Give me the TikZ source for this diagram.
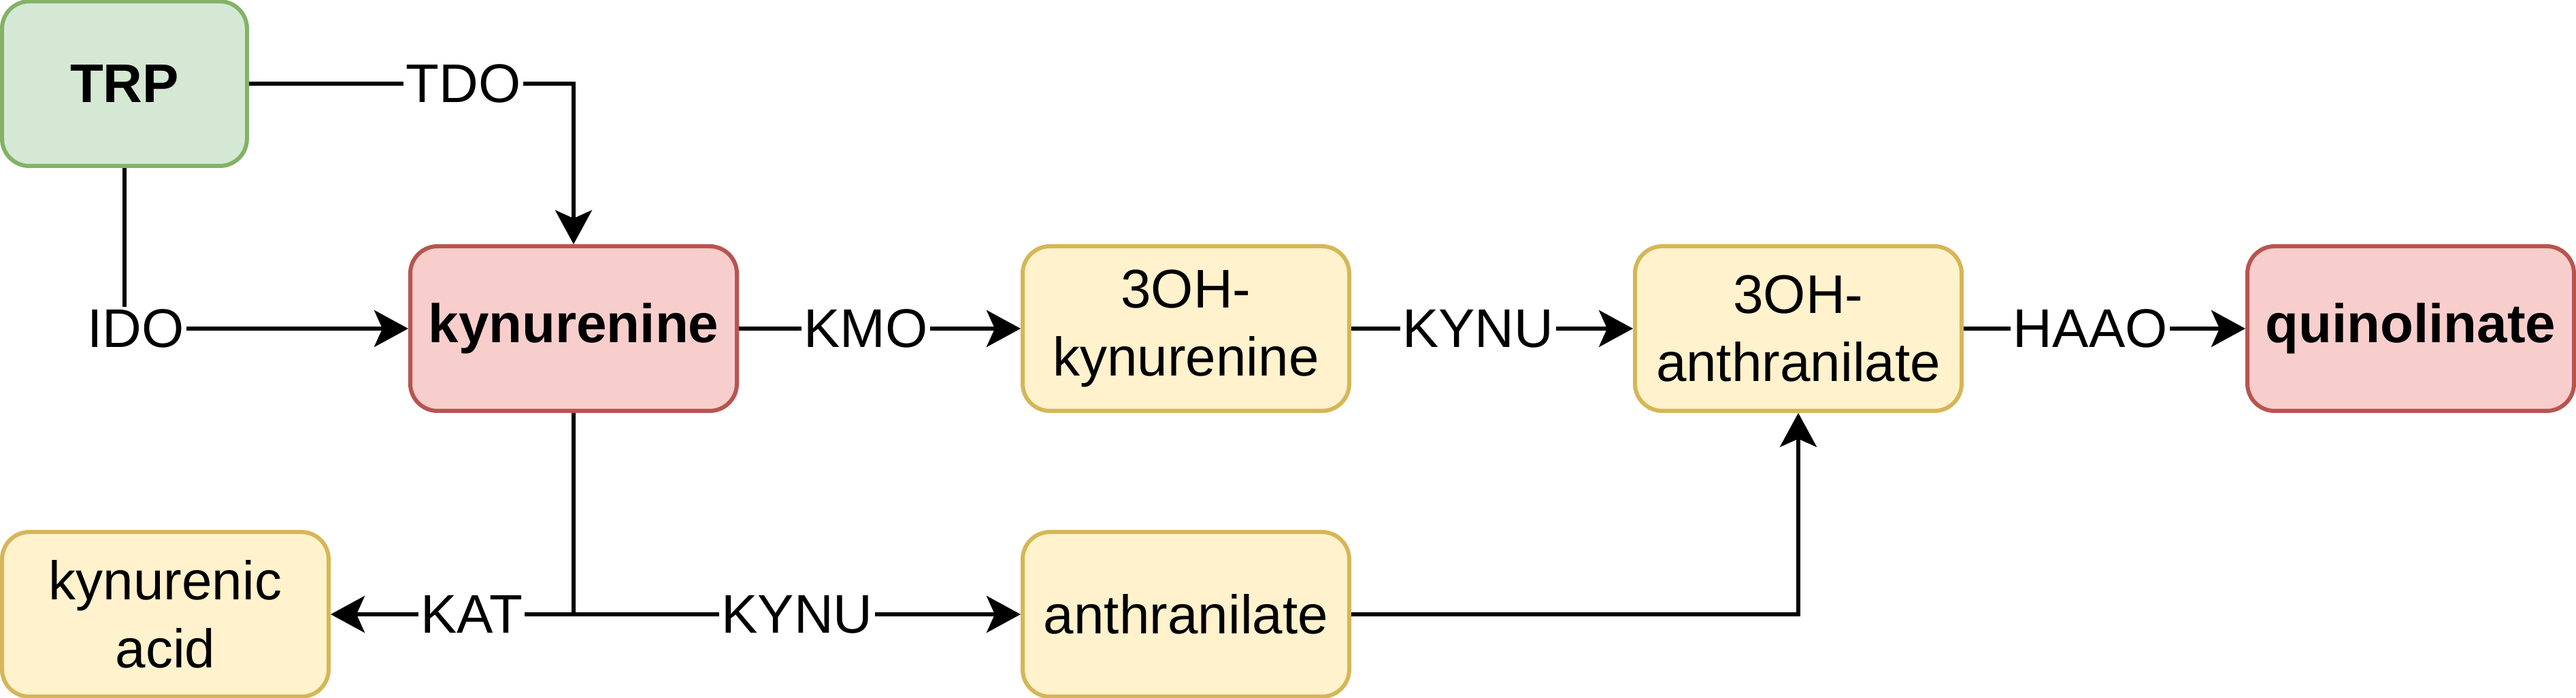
\documentclass[tikz,border=0pt]{standalone}
\usepackage{fontspec}
\setmainfont{Liberation Sans}
\usepackage{xcolor}
\usepackage{tikz}
\usetikzlibrary{arrows.meta,positioning}
\definecolor{trpfill}{HTML}{D5E8D4}
\definecolor{trpline}{HTML}{82B366}
\definecolor{keyfill}{HTML}{F8CECC}
\definecolor{keyline}{HTML}{B85450}
\definecolor{midfill}{HTML}{FFF2CC}
\definecolor{midline}{HTML}{D6B656}

\begin{document}
\begin{tikzpicture}[font=\fontsize{22.76}{28.45}\selectfont, node distance=4.14cm,
    box/.style={rounded corners=0.4cm, align=center, line width=0.6mm, minimum width=4.8cm, minimum height=2.42cm, inner sep=2pt},
    trpbox/.style={box, draw=trpline, fill=trpfill, minimum width=3.6cm},
    keybox/.style={box, draw=keyline, fill=keyfill},
    midbox/.style={box, draw=midline, fill=midfill},
    flow/.style={-{Stealth[length=5mm, width=5.4mm, inset=1.2mm]}, line width=0.55mm},
    link/.style={line width=0.55mm},
    lbl/.style={fill=white, inner sep=1pt}]
  \useasboundingbox (0,0) rectangle (37.86,-10.26);
  \node[trpbox] (trp) at (1.83,-1.23) {\textbf{TRP}};
  \node[keybox] (kyn) at (8.43,-4.83) {\textbf{kynurenine}};
  \node[midbox, right=of kyn] (ohkyn) {3OH-\\kynurenine};
  \node[midbox, right=of ohkyn] (ohanth) {3OH-\\anthranilate};
  \node[keybox, right=of ohanth] (quin) {\textbf{quinolinate}};
  \node[midbox, below=1.72cm of ohkyn] (anth) {anthranilate};
  \node[midbox, left=10.14cm of anth] (kacid) {kynurenic\\acid};
  \draw[flow] (trp) -| node[lbl, pos=0.33] (tdo) {TDO} (kyn);
  \draw[flow] (trp) |- node[lbl, pos=0.52] (ido) {IDO} (kyn);
  \draw[flow] (kyn) -- node[lbl, pos=0.45] (kmo) {KMO} (ohkyn);
  \draw[flow] (ohkyn) -- node[lbl, pos=0.45] (kynu) {KYNU} (ohanth);
  \draw[flow] (ohanth) -- node[lbl, pos=0.45] (haao) {HAAO} (quin);
  \draw[flow] (kyn) |- node[lbl, pos=0.71] (kat) {KAT} (kacid);
  \draw[flow] (kyn) |- node[lbl, pos=0.75] (kynub) {KYNU} (anth);
  \draw[flow] (anth) -| (ohanth);
\end{tikzpicture}
\end{document}
